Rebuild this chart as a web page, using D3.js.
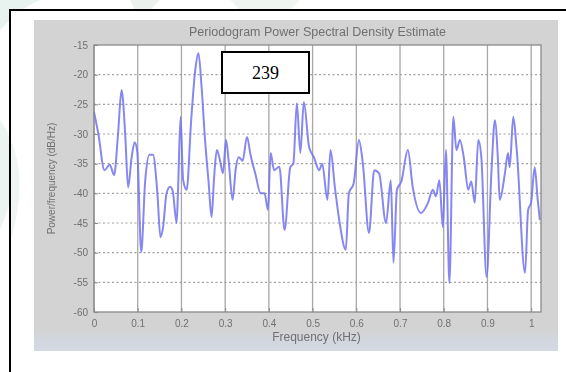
<!DOCTYPE html>
<html><head><meta charset="utf-8">
<script src="https://cdn.jsdelivr.net/npm/d3@7"></script>
<style>html,body{margin:0;padding:0;background:#fff;}svg{display:block;}</style>
</head><body>
<script>
const freq = [0.000,0.010,0.024,0.036,0.046,0.055,0.063,0.066,0.072,0.078,0.086,0.093,0.099,0.108,0.117,0.127,0.135,0.145,0.152,0.158,0.166,0.174,0.180,0.189,0.192,0.198,0.204,0.212,0.222,0.232,0.239,0.246,0.254,0.262,0.269,0.275,0.281,0.288,0.295,0.302,0.308,0.317,0.324,0.331,0.340,0.350,0.358,0.370,0.381,0.390,0.398,0.404,0.412,0.424,0.436,0.449,0.456,0.464,0.472,0.480,0.492,0.503,0.515,0.522,0.534,0.541,0.551,0.561,0.576,0.583,0.594,0.606,0.615,0.629,0.641,0.652,0.668,0.679,0.685,0.693,0.703,0.718,0.729,0.748,0.764,0.775,0.782,0.790,0.798,0.805,0.813,0.822,0.829,0.837,0.846,0.856,0.863,0.871,0.879,0.886,0.898,0.909,0.917,0.924,0.928,0.940,0.947,0.951,0.959,0.967,0.986,0.993,1.000,1.008,1.015,1.020];
const psd = [-26.3,-30.0,-36.1,-35.2,-36.9,-30.0,-22.6,-24.0,-31.0,-39.0,-34.0,-31.4,-33.0,-49.9,-38.0,-33.5,-33.5,-40.0,-47.4,-45.7,-40.0,-38.9,-39.6,-45.0,-40.0,-27.1,-37.8,-39.4,-28.0,-19.0,-16.4,-22.0,-31.0,-38.0,-44.0,-37.0,-32.7,-34.4,-36.6,-31.0,-34.5,-41.1,-36.0,-33.9,-34.5,-30.5,-33.5,-37.0,-40.0,-40.0,-42.8,-33.2,-36.1,-35.5,-46.2,-35.6,-35.0,-24.8,-33.2,-24.6,-32.2,-33.9,-36.1,-35.0,-41.1,-32.7,-39.0,-44.5,-49.5,-40.0,-38.3,-31.0,-35.0,-46.7,-36.1,-36.6,-45.0,-37.8,-51.7,-39.4,-38.0,-32.7,-38.9,-43.3,-41.6,-39.4,-40.5,-37.8,-45.7,-32.7,-55.1,-27.1,-32.7,-31.0,-34.0,-39.4,-38.0,-41.6,-31.0,-33.9,-54.1,-36.6,-27.7,-34.4,-41.1,-36.6,-33.2,-35.6,-27.1,-32.7,-53.4,-42.8,-41.5,-35.6,-41.1,-44.5];
const xTicks = [0,0.1,0.2,0.3,0.4,0.5,0.6,0.7,0.8,0.9,1];
const xTickLabels = ["0","0.1","0.2","0.3","0.4","0.5","0.6","0.7","0.8","0.9","1"];
const yTicks = [-15,-20,-25,-30,-35,-40,-45,-50,-55,-60];
const titleText = "Periodogram Power Spectral Density Estimate";
const xLabelText = "Frequency (kHz)";
const yLabelText = "Power/frequency (dB/Hz)";
const annotation = "239";

const W = 566, H = 372;
const svg = d3.select("body").append("svg").attr("width", W).attr("height", H);
const defs = svg.append("defs");
const blur = defs.append("filter").attr("id","soft").attr("x","-5%").attr("y","-5%").attr("width","110%").attr("height","110%");
blur.append("feGaussianBlur").attr("stdDeviation",0.6);
const grad = defs.append("linearGradient").attr("id","panelGrad").attr("x1",0).attr("y1",0).attr("x2",0).attr("y2",1);
grad.append("stop").attr("offset","0%").attr("stop-color","#d3d3d3");
grad.append("stop").attr("offset","94%").attr("stop-color","#d3d3d3");
grad.append("stop").attr("offset","97%").attr("stop-color","#d2d7df");
grad.append("stop").attr("offset","100%").attr("stop-color","#d4d9e2");

// faint watermark shapes
const wm = svg.append("g").attr("fill","#e8f2ee").attr("stroke","none");
wm.append("path").attr("d","M0,120 Q30,160 0,230 L0,120Z").attr("fill","#ebf4f0");
wm.append("path").attr("d","M0,0 L40,0 Q20,8 0,30Z");
wm.append("path").attr("d","M130,0 L160,0 L150,10 L135,10Z").attr("fill","#ecf1ee");
wm.append("path").attr("d","M230,0 L300,0 L290,10 L240,10Z").attr("fill","#f0f5f2");
wm.append("path").attr("d","M10,300 Q25,330 10,372 L10,300Z").attr("fill","#ebf4f0");

// outer frame
svg.append("rect").attr("x",10).attr("y",10).attr("width",620).attr("height",420)
  .attr("fill","#fff").attr("stroke","#000").attr("stroke-width",2);
svg.append("path").attr("d","M11,140 Q28,180 11,240Z").attr("fill","#eef5f2");

// figure panel
svg.append("rect").attr("x",34).attr("y",20).attr("width",524).attr("height",331).attr("fill","url(#panelGrad)");

const m = {l:94, r:541, t:45, b:312};
const x = d3.scaleLinear().domain([0, 1.0225]).range([m.l, m.r]);
const y = d3.scaleLinear().domain([-60, -15]).range([m.b, m.t]);

const g = svg.append("g").attr("filter","url(#soft)");
g.append("rect").attr("x",m.l).attr("y",m.t).attr("width",m.r-m.l).attr("height",m.b-m.t).attr("fill","#fff");

// grid
g.append("g").selectAll("line").data(xTicks).join("line")
  .attr("x1",d=>x(d)).attr("x2",d=>x(d)).attr("y1",m.t).attr("y2",m.b)
  .attr("stroke","#a8a8a8").attr("stroke-width",1.3);
g.append("g").selectAll("line").data(yTicks.filter(v=>v>-60 && v<-15)).join("line")
  .attr("x1",m.l).attr("x2",m.r).attr("y1",d=>y(d)).attr("y2",d=>y(d))
  .attr("stroke","#a0a0a0").attr("stroke-width",1.2).attr("stroke-dasharray","2,2.5");

// data line
const line = d3.line().x((d,i)=>x(freq[i])).y(d=>y(d)).curve(d3.curveMonotoneX);
g.append("path").datum(psd).attr("d",line).attr("fill","none")
  .attr("stroke","#7272f0").attr("stroke-width",2).attr("stroke-opacity",0.85).attr("stroke-linejoin","round");

// axes box
g.append("rect").attr("x",m.l).attr("y",m.t).attr("width",m.r-m.l).attr("height",m.b-m.t)
  .attr("fill","none").attr("stroke","#8a8a8a").attr("stroke-width",1.3);

// axes via d3
const xAxis = d3.axisBottom(x).tickValues(xTicks).tickFormat((d,i)=>xTickLabels[i]).tickSize(-4).tickPadding(6);
const yAxis = d3.axisLeft(y).tickValues(yTicks).tickFormat(d=>String(d)).tickSize(-4).tickPadding(6);
const xg = g.append("g").attr("transform",`translate(0,${m.b})`).call(xAxis);
const yg = g.append("g").attr("transform",`translate(${m.l},0)`).call(yAxis);
[xg,yg].forEach(a=>{
  a.select(".domain").remove();
  a.selectAll(".tick line").attr("stroke","#8a8a8a");
  a.selectAll(".tick text").attr("fill","#707070").attr("font-family","Arial, 'Liberation Sans', sans-serif").attr("font-size",10);
});
xg.selectAll(".tick text").attr("dy","0.9em");

// labels
g.append("text").attr("x",(m.l+m.r)/2).attr("y",36).attr("text-anchor","middle")
  .attr("font-family","Arial, 'Liberation Sans', sans-serif").attr("font-size",12.5).attr("fill","#707070").text(titleText);
g.append("text").attr("x",(m.l+m.r)/2 - 1).attr("y",341).attr("text-anchor","middle")
  .attr("font-family","Arial, 'Liberation Sans', sans-serif").attr("font-size",12).attr("fill","#707070").text(xLabelText);
g.append("text").attr("transform",`translate(55,${(m.t+m.b)/2}) rotate(-90)`).attr("text-anchor","middle")
  .attr("font-family","Arial, 'Liberation Sans', sans-serif").attr("font-size",10).attr("fill","#707070").text(yLabelText);

// annotation box
svg.append("rect").attr("x",222).attr("y",52).attr("width",87).attr("height",41)
  .attr("fill","#fff").attr("stroke","#000").attr("stroke-width",2);
svg.append("text").attr("x",265.5).attr("y",79).attr("text-anchor","middle")
  .attr("font-family","'Liberation Serif', 'Times New Roman', serif").attr("font-size",18).attr("fill","#000").text(annotation);
</script>
</body></html>
